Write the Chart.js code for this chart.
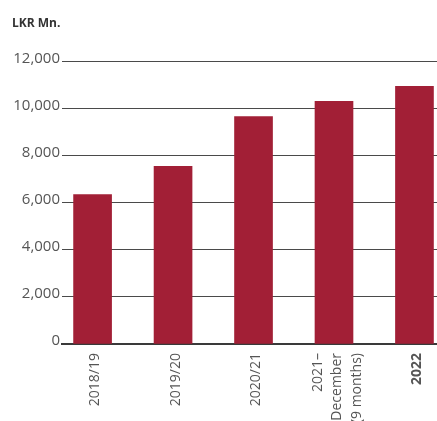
<!DOCTYPE html>
<html>
<head>
<meta charset="utf-8">
<script src="https://cdn.jsdelivr.net/npm/chart.js@4"></script>
<style>
  html, body { margin: 0; padding: 0; background: #fff; overflow: hidden; }
  #wrap { width: 437px; height: 421px; position: relative; }
</style>
</head>
<body>
<div id="wrap"><canvas id="revenueChart"></canvas></div>
<script>
// Revenue by financial period, LKR Mn.
const categories = ['2018/19', '2019/20', '2020/21', ['2021–', 'December', '(9 months)'], '2022'];
const revenue = [6350, 7540, 9660, 10300, 10940];
const yTicks = [0, 2000, 4000, 6000, 8000, 10000, 12000];

const FONT = "'Open Sans', sans-serif";
const BAR_RED = '#a21f36';
// multi-line labels are centred on their middle line (value units per extra line)
const LINE_SHIFT = 0.112;

const lineCount = c => Array.isArray(c) ? c.length : 1;

new Chart(document.getElementById('revenueChart'), {
  type: 'bar',
  data: {
    datasets: [{
      data: revenue.map((v, i) => ({ x: i, y: v })),
      backgroundColor: BAR_RED,
      borderWidth: 0,
      barThickness: 38
    }]
  },
  options: {
    responsive: true,
    maintainAspectRatio: false,
    animation: false,
    layout: { padding: { left: 12, right: 0, top: 0, bottom: 0 } },
    plugins: {
      legend: { display: false },
      tooltip: { enabled: false },
      title: {
        display: true,
        text: 'LKR Mn.',
        align: 'start',
        color: '#333',
        font: { family: FONT, size: 12, weight: 'bold' },
        padding: { top: 16, bottom: 31 }
      }
    },
    scales: {
      x: {
        type: 'linear',
        offset: false,
        min: -0.38,
        max: 4.28,
        afterBuildTicks: s => {
          s.ticks = categories.map((c, i) => ({ value: i - (lineCount(c) - 1) * LINE_SHIFT }));
        },
        afterFit: s => { s.height = 77; s.paddingLeft = 0; s.paddingRight = 0; },
        grid: { display: false, drawTicks: false },
        border: { display: true, color: '#3a3a3a', width: 2 },
        ticks: {
          autoSkip: false,
          minRotation: 90,
          maxRotation: 90,
          padding: 9,
          labelOffset: 2.5,
          color: '#555',
          font: ctx => ({ family: FONT, size: 14, lineHeight: 1.36, weight: ctx.index === 4 ? 'bold' : 'normal' }),
          callback: (v, i) => categories[i]
        }
      },
      y: {
        min: 0,
        max: 12000,
        afterBuildTicks: s => { s.ticks = yTicks.map(v => ({ value: v })); },
        afterFit: s => { s.width = 50; },
        grid: { color: '#4a4a4a', lineWidth: 1, drawTicks: false },
        border: { display: false },
        ticks: {
          padding: 2,
          labelOffset: -3,
          color: '#555',
          font: { family: FONT, size: 15 },
          callback: v => v.toLocaleString('en-US')
        }
      }
    }
  }
});
</script>
</body>
</html>
